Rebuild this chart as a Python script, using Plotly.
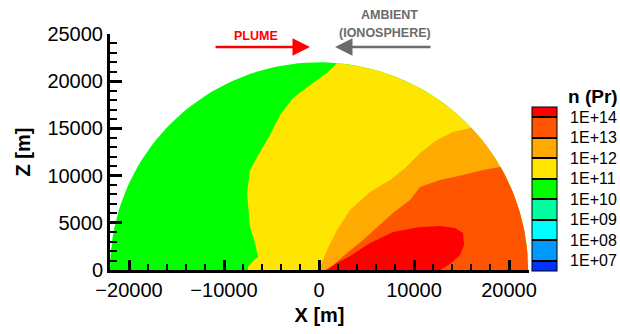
import numpy as np
import plotly.graph_objects as go

# ---------------- data ----------------
R = 22000  # domain radius [m]

# interface n = 1E+11 (green | yellow), from rim down to the base
gy_x = [1895, 842, -947, -2737, -4105, -5158, -6211, -7263, -7579, -7263, -6737, -6421, -6947, -7474, -7474]
gy_z = [21921, 20862, 19592, 18215, 16415, 14297, 12496, 10590, 8154, 4554, 2859, 1377, 953, 318, 0]
# interface n = 1E+12 (yellow | orange)
yo_x = [15895, 14105, 12421, 10632, 9053, 7474, 5368, 3263, 1895, 842, 105, -105]
yo_z = [15038, 14614, 13767, 12390, 10802, 9531, 8260, 6354, 4236, 2118, 318, 0]
# interface n = 1E+13 (orange | dark orange)
od_x = [19053, 17263, 15158, 12737, 10632, 9579, 7789, 6105, 4632, 2947, 1474, 632]
od_z = [10908, 10590, 10061, 9531, 8790, 7413, 6036, 4554, 3177, 1800, 530, 0]
# region n > 1E+14 (closed contour)
red_x = [842, 1895, 3263, 5368, 7789, 10632, 12737, 14316, 15158, 15263, 14842, 13789, 12737]
red_z = [0, 741, 1483, 2859, 4024, 4554, 4660, 4448, 3918, 2648, 1589, 635, 0]

# legend levels (log10 n) and colours
levels = [7, 8, 9, 10, 11, 12, 13, 14]
level_labels = ["1E+07", "1E+08", "1E+09", "1E+10", "1E+11", "1E+12", "1E+13", "1E+14"]
band_colors = ["#0033FF", "#0099FF", "#00FFFF", "#00FFA0", "#00FF00",
               "#FFE600", "#FFAA00", "#FF5500", "#FF0000"]
cmin, cmax = 6.5, 14.5

FONT = "Liberation Sans, Arial, sans-serif"

W, H = 620, 334
ML, MR, MT, MB = 110, 91, 34, 64
PW, PH = W - ML - MR, H - MT - MB


def px_x(p):  # window pixel -> paper x
    return (p - ML) / PW


def px_y(p):  # window pixel -> paper y
    return (H - MB - p) / PH


def arc(a0, a1, n=80):
    t = np.linspace(a0, a1, n)
    return list(R * np.cos(t)), list(R * np.sin(t))


def region_from_interface(ix, iz):
    """Region bounded by interface curve, the base (z=0) and the rim."""
    a_top = np.arctan2(iz[0], ix[0])
    ax_, az_ = arc(0.0, a_top)
    xs = list(ix) + [R] + ax_
    zs = list(iz) + [0] + az_
    return xs, zs


fig = go.Figure()

# green = whole half disk (1E+10 .. 1E+11)
gx, gz = arc(0.0, np.pi)
fig.add_trace(go.Scatter(x=gx + [gx[0]], y=gz + [gz[0]], fill="toself", mode="lines",
                         line=dict(width=0), fillcolor=band_colors[4],
                         hoverinfo="skip", showlegend=False))

for (ix, iz, col) in [(gy_x, gy_z, band_colors[5]),
                      (yo_x, yo_z, band_colors[6]),
                      (od_x, od_z, band_colors[7])]:
    xs, zs = region_from_interface(ix, iz)
    fig.add_trace(go.Scatter(x=xs, y=zs, fill="toself", mode="lines",
                             line=dict(width=0), fillcolor=col,
                             hoverinfo="skip", showlegend=False))

fig.add_trace(go.Scatter(x=red_x, y=red_z, fill="toself", mode="lines",
                         line=dict(width=0), fillcolor=band_colors[8],
                         hoverinfo="skip", showlegend=False))

# colour legend (discrete)
cs = []
edges = [cmin] + levels + [cmax]
for i, c in enumerate(band_colors):
    lo = (edges[i] - cmin) / (cmax - cmin)
    hi = (edges[i + 1] - cmin) / (cmax - cmin)
    cs.append([lo, c])
    cs.append([hi, c])

fig.add_trace(go.Scatter(
    x=[0], y=[-5000], mode="markers", hoverinfo="skip", showlegend=False,
    marker=dict(size=1, color=[10], colorscale=cs, cmin=cmin, cmax=cmax, showscale=True,
                colorbar=dict(
                    x=px_x(532), xanchor="left", xpad=0, ypad=0,
                    y=px_y(189), yanchor="middle", len=164, lenmode="pixels",
                    thickness=25, thicknessmode="pixels",
                    outlinewidth=1, outlinecolor="black",
                    tickvals=levels,
                    ticktext=["\u00a0\u00a0" + t for t in level_labels],
                    ticks="inside", ticklen=25, tickwidth=1.5, tickcolor="black",
                    tickfont=dict(family=FONT, size=16, color="black"),
                ))))

# annotations
fig.add_annotation(x=-947, y=23616, xref="x", yref="y", ax=-96, ay=0, text="",
                   showarrow=True, arrowhead=2, arrowsize=1.4, arrowwidth=2.5,
                   arrowcolor="#FF0000", standoff=0)
fig.add_annotation(x=1684, y=23616, xref="x", yref="y", ax=97, ay=0, text="",
                   showarrow=True, arrowhead=2, arrowsize=1.4, arrowwidth=2.5,
                   arrowcolor="#6B6B6B", standoff=0)
fig.add_annotation(x=px_x(256), y=px_y(36), xref="paper", yref="paper", text="<b>PLUME</b>",
                   xanchor="center", yanchor="middle",
                   showarrow=False, font=dict(family=FONT, size=12.5, color="#FF0000"))
fig.add_annotation(x=px_x(389), y=px_y(15), xref="paper", yref="paper", text="<b>AMBIENT</b>",
                   xanchor="center", yanchor="middle",
                   showarrow=False, font=dict(family=FONT, size=12.5, color="#6B6B6B"))
fig.add_annotation(x=px_x(385), y=px_y(33), xref="paper", yref="paper", text="<b>(IONOSPHERE)</b>",
                   xanchor="center", yanchor="middle",
                   showarrow=False, font=dict(family=FONT, size=12.5, color="#6B6B6B"))
fig.add_annotation(x=px_x(593), y=px_y(96), xref="paper", yref="paper",
                   xanchor="center", yanchor="middle",
                   text="<b>n (Pr)</b>", showarrow=False,
                   font=dict(family=FONT, size=19, color="black"))

fig.update_xaxes(range=[-22000, 22100], dtick=10000, tick0=0, ticks="inside", ticklen=10,
                 tickformat="d",
                 tickwidth=3, tickcolor="black", showline=True, linewidth=3, linecolor="black",
                 showgrid=False, zeroline=False,
                 minor=dict(dtick=2000, tick0=0, ticks="inside", ticklen=6, tickwidth=1.5,
                            tickcolor="black"),
                 tickfont=dict(family=FONT, size=20, color="black"),
                 title=dict(text="<b>X [m]</b>", font=dict(family=FONT, size=20, color="black"),
                            standoff=8))
fig.update_yaxes(range=[0, 25000], dtick=5000, tick0=0, ticks="inside", ticklen=12,
                 tickformat="d",
                 tickwidth=3, tickcolor="black", showline=True, linewidth=3, linecolor="black",
                 showgrid=False, zeroline=False,
                 minor=dict(dtick=1000, tick0=0, ticks="inside", ticklen=7, tickwidth=1.5,
                            tickcolor="black"),
                 tickfont=dict(family=FONT, size=20, color="black"),
                 title=dict(text="<b>Z [m]</b>", font=dict(family=FONT, size=20, color="black"),
                            standoff=12))

fig.update_layout(width=W, height=H,
                  margin=dict(l=ML, r=MR, t=MT, b=MB, autoexpand=False),
                  plot_bgcolor="white", paper_bgcolor="white",
                  font=dict(family=FONT))

fig.write_html("out.html", config={"displayModeBar": False},
               post_script="document.body.style.margin='0';document.body.style.overflow='hidden';")
